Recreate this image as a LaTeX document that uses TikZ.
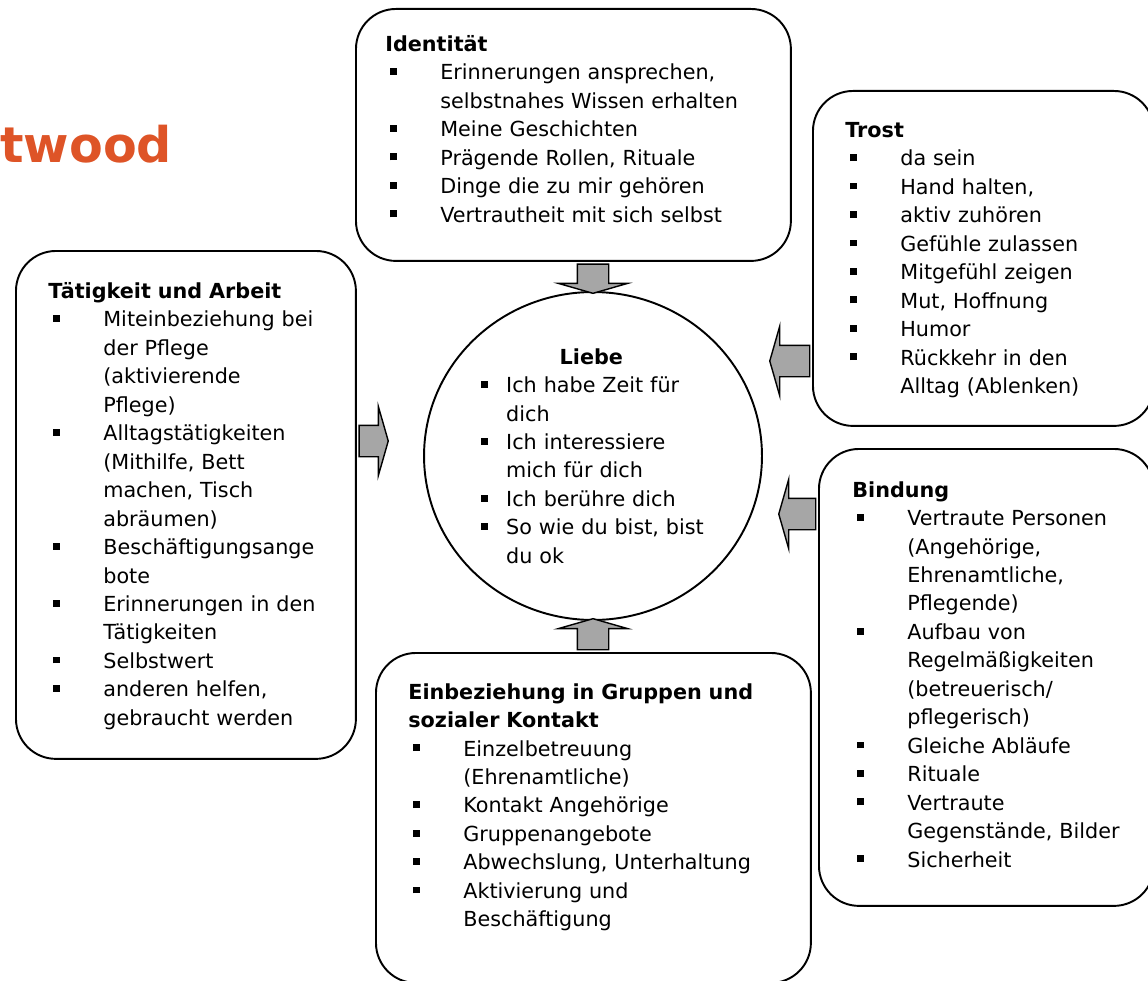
\documentclass[tikz,border=0pt]{standalone}
\usepackage{fontspec}
\setmainfont{DejaVu Sans}
\usetikzlibrary{shapes.geometric,shapes.arrows,calc}

\definecolor{kitorange}{HTML}{DE5427}
\definecolor{arrowgray}{HTML}{A6A6A6}

% bullet item with hanging indent
\newcommand{\itm}[2][31.3pt]{\par\hangindent=#1\hangafter=1\noindent
  \makebox[#1][l]{\hspace{2.5pt}\rule[2.8pt]{3.9pt}{3.9pt}}#2\par}

% grey block arrow from #1 to #2
\newcommand{\blockarrow}[2]{%
  \path let \p1=(#1), \p2=(#2),
    \n1={atan2(\y2-\y1,\x2-\x1)}, \n2={veclen(\x2-\x1,\y2-\y1)} in
    node[garrow, minimum height=\n2, rotate=\n1] at ($(\p1)!0.5!(\p2)$) {};}

\begin{document}
\begin{tikzpicture}[x=0.02cm, y=-0.02cm,
    box/.style={draw, rectangle, rounded corners=0.8cm, line width=1.1pt, anchor=north west, inner sep=0pt},
    txt/.style={anchor=north west, inner sep=0pt, align=left,
      font={\fontsize{11.8pt}{16.2pt}\selectfont\parindent=0pt}},
    garrow/.style={single arrow, draw, fill=arrowgray, line width=0.8pt, inner xsep=0pt, inner ysep=0.3cm,
      single arrow head extend=0.38cm, single arrow tip angle=148, anchor=center}]
  \useasboundingbox (0,0) rectangle (1148,980);

  \node[anchor=base west, inner sep=0pt, text=kitorange, font={\fontsize{28pt}{30pt}\selectfont\bfseries}] (title) at (0,162) {twood};

  % boxes
  \node[box, minimum width=8.7cm, minimum height=5.04cm] (ident) at (355,8) {};
  \node[box, minimum width=6.82cm, minimum height=6.7cm] (trost) at (812,90) {};
  \node[box, minimum width=6.8cm, minimum height=10.16cm] (tat) at (15,250) {};
  \node[box, minimum width=6.7cm, minimum height=9.14cm] (bind) at (818,448) {};
  \node[box, minimum width=8.7cm, minimum height=6.6cm] (einb) at (375,652) {};
  \node[draw, ellipse, fill=white, line width=1.1pt, inner sep=0pt,
    minimum width=6.76cm, minimum height=6.56cm] (liebe) at (593,456) {};

  % texts
  \node[txt, text width=8cm] (identtxt) at (385,35) {\textbf{Identität}
    \itm{Erinnerungen ansprechen,\newline selbstnahes Wissen erhalten}
    \itm{Meine Geschichten}
    \itm{Prägende Rollen, Rituale}
    \itm{Dinge die zu mir gehören}
    \itm{Vertrautheit mit sich selbst}};
  \node[txt, text width=6cm] (trosttxt) at (845,122) {\textbf{Trost}
    \itm{da sein}
    \itm{Hand halten,}
    \itm{aktiv zuhören}
    \itm{Gefühle zulassen}
    \itm{Mitgefühl zeigen}
    \itm{Mut, Hoffnung}
    \itm{Humor}
    \itm{Rückkehr in den\newline Alltag (Ablenken)}};
  \node[txt, text width=6cm] (tattxt) at (48,282) {\textbf{Tätigkeit und Arbeit}
    \itm{Miteinbeziehung bei\newline der Pflege\newline (aktivierende\newline Pflege)}
    \itm{Alltagstätigkeiten\newline (Mithilfe, Bett\newline machen, Tisch\newline abräumen)}
    \itm{Beschäftigungsange\newline bote}
    \itm{Erinnerungen in den\newline Tätigkeiten}
    \itm{Selbstwert}
    \itm{anderen helfen,\newline gebraucht werden}};
  \node[txt, text width=5.3cm] (liebetxt) at (476,348) {\makebox[4.6cm][c]{\textbf{Liebe}}
    \itm[17pt]{Ich habe Zeit für\newline dich}
    \itm[17pt]{Ich interessiere\newline mich für dich}
    \itm[17pt]{Ich berühre dich}
    \itm[17pt]{So wie du bist, bist\newline du ok}};
  \node[txt, text width=6cm] (bindtxt) at (852,481) {\textbf{Bindung}
    \itm{Vertraute Personen\newline (Angehörige,\newline Ehrenamtliche,\newline Pflegende)}
    \itm{Aufbau von\newline Regelmäßigkeiten\newline (betreuerisch/\newline pflegerisch)}
    \itm{Gleiche Abläufe}
    \itm{Rituale}
    \itm{Vertraute\newline Gegenstände, Bilder}
    \itm{Sicherheit}};
  \node[txt, text width=8cm] (einbtxt) at (408,683) {\textbf{Einbeziehung in Gruppen und\newline sozialer Kontakt}
    \itm{Einzelbetreuung\newline (Ehrenamtliche)}
    \itm{Kontakt Angehörige}
    \itm{Gruppenangebote}
    \itm{Abwechslung, Unterhaltung}
    \itm{Aktivierung und\newline Beschäftigung}};

  % arrows
  \coordinate (tattip) at (386,441);
  \coordinate (trosttip) at (772,361);
  \coordinate (bindtip) at (781,514);
  \blockarrow{ident.south -| liebe.north}{liebe.north}
  \blockarrow{tat.east |- tattip}{tattip}
  \blockarrow{trost.west |- trosttip}{trosttip}
  \blockarrow{bind.west |- bindtip}{bindtip}
  \blockarrow{einb.north -| liebe.south}{liebe.south}
\end{tikzpicture}
\end{document}
